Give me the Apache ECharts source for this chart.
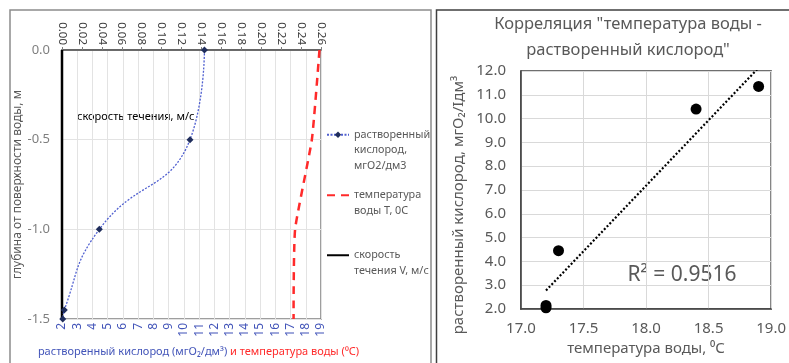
<!DOCTYPE html>
<html><head><meta charset="utf-8">
<script src="https://cdn.jsdelivr.net/npm/echarts@6/dist/echarts.min.js"></script>
<style>html,body{margin:0;padding:0;background:#fff}#c{width:789px;height:363px}</style>
</head><body><div id="c"></div>
<script>
// ---- data ----
const depth = [0, -0.5, -1.0, -1.45, -1.5];            // m
const oxygen = [11.35, 10.4, 4.45, 2.15, 2.05];         // мгО2/дм3
const temperature = [18.9, 18.4, 17.3, 17.2, 17.2];     // °C
const speed = [0, 0, 0, 0, 0];                          // м/с
const bottomTicks = {min: 2, max: 19, step: 1};
const topTicks = {min: 0, max: 0.26, step: 0.02};
const depthTicks = {min: -1.5, max: 0, step: 0.5};
const corrXTicks = {min: 17, max: 19, step: 0.5};
const corrYTicks = {min: 2, max: 12, step: 1};
const r2Text = 'R² = 0.9516';

const FONT = '"Noto Sans", "DejaVu Sans", sans-serif';
const GRAY = '#595959';
const BLUE = '#4355b9';
const RED = '#ff2a2a';

const nameOx = 'растворенный кислород, мгО2/дм3';
const nameT = 'температура воды Т, 0С';
const nameV = 'скорость течения V, м/с';
const legendLabels = {};
legendLabels[nameOx] = '\n\nрастворенный\nкислород,\nмгО2/дм3';
legendLabels[nameT] = '\nтемпература\nводы Т, 0С';
legendLabels[nameV] = '\nскорость\nтечения V, м/с';

// linear trend from the scatter data
const n = temperature.length;
const mx = temperature.reduce((a,b)=>a+b,0)/n;
const my = oxygen.reduce((a,b)=>a+b,0)/n;
let sxy=0,sxx=0;
for(let i=0;i<n;i++){sxy+=(temperature[i]-mx)*(oxygen[i]-my);sxx+=(temperature[i]-mx)**2;}
const slope=sxy/sxx, icpt=my-slope*mx;
const tMin=Math.min(...temperature);
const trend=[[tMin, icpt+slope*tMin],[corrXTicks.max, icpt+slope*corrXTicks.max]];

const chart = echarts.init(document.getElementById('c'), null, {renderer:'canvas'});
const legendBase = {orient:'vertical', left:326, itemWidth:22, itemHeight:8, padding:0,
  textStyle:{fontFamily:FONT, fontSize:10.8, lineHeight:15.5, color:GRAY},
  formatter: nm => legendLabels[nm]};
chart.setOption({
  animation:false,
  textStyle:{fontFamily:FONT},
  title:{text:'Корреляция "температура воды -\nрастворенный кислород"', left:628, top:11, textAlign:'center',
    padding:0, textStyle:{fontFamily:FONT, fontSize:16.5, fontWeight:'normal', color:GRAY, lineHeight:26}},
  legend:[
    Object.assign({}, legendBase, {top:96, data:[nameOx]}),
    Object.assign({}, legendBase, {top:172, data:[{name:nameT, itemStyle:{opacity:0}}]}),
    Object.assign({}, legendBase, {top:232, data:[{name:nameV, itemStyle:{opacity:0}}]})
  ],
  grid:[
    {left:62, top:50, width:259, height:269, show:true, borderColor:'#7f7f7f', borderWidth:1.5},
    {left:521, top:71, width:252, height:238, show:true, borderColor:'#404040', borderWidth:1.5}
  ],
  xAxis:[
    {gridIndex:0, type:'value', position:'bottom', min:bottomTicks.min, max:bottomTicks.max, interval:bottomTicks.step,
     axisLine:{show:true, lineStyle:{color:'#8c8c8c', width:1.5}}, axisTick:{show:false},
     axisLabel:{rotate:90, color:BLUE, fontSize:12, margin:4, fontFamily:FONT},
     splitLine:{show:true, lineStyle:{color:'#e3e3e3', width:1}},
     name:'{b|растворенный кислород (мгО₂/дм³)}{r| и температура воды (⁰С)}', nameLocation:'middle', nameGap:27,
     nameTextStyle:{padding:[0,0,0,14], rich:{b:{color:BLUE, fontSize:11, fontFamily:FONT}, r:{color:RED, fontSize:11, fontFamily:FONT}}}},
    {gridIndex:0, type:'value', position:'top', min:topTicks.min, max:topTicks.max, interval:topTicks.step,
     axisLine:{show:true, lineStyle:{color:'#595959', width:1.5}}, axisTick:{show:true, length:3, lineStyle:{color:'#7f7f7f'}},
     axisLabel:{rotate:90, color:'#404040', fontSize:11.5, margin:5, fontFamily:FONT, formatter:v=>v.toFixed(2)},
     splitLine:{show:false}},
    {gridIndex:1, type:'value', min:corrXTicks.min, max:corrXTicks.max, interval:corrXTicks.step,
     axisLine:{show:true, lineStyle:{color:'#404040', width:1.5}}, axisTick:{show:false},
     axisLabel:{color:GRAY, fontSize:15, margin:12, fontFamily:FONT, formatter:v=>v.toFixed(1)},
     splitLine:{show:true, lineStyle:{color:'#d9d9d9'}},
     name:'температура воды, ⁰С', nameLocation:'middle', nameGap:31,
     nameTextStyle:{color:GRAY, fontSize:15, fontFamily:FONT}}
  ],
  yAxis:[
    {gridIndex:0, type:'value', min:depthTicks.min, max:depthTicks.max, interval:depthTicks.step,
     axisLine:{show:false}, axisTick:{show:false},
     axisLabel:{color:'#7f7f7f', fontSize:13, margin:12, fontFamily:FONT, formatter:v=>v.toFixed(1)},
     splitLine:{show:true, lineStyle:{color:'#e3e3e3'}},
     name:'глубина от поверхности воды, м', nameLocation:'middle', nameGap:38,
     nameTextStyle:{color:GRAY, fontSize:12, fontFamily:FONT}},
    {gridIndex:1, type:'value', min:corrYTicks.min, max:corrYTicks.max, interval:corrYTicks.step,
     axisLine:{show:true, lineStyle:{color:'#404040', width:1.5}}, axisTick:{show:false},
     axisLabel:{color:GRAY, fontSize:15, margin:15, fontFamily:FONT, formatter:v=>v.toFixed(1)},
     splitLine:{show:true, lineStyle:{color:'#d9d9d9'}},
     name:'растворенный кислород, мгО₂/Iдм³', nameLocation:'middle', nameGap:55,
     nameTextStyle:{color:GRAY, fontSize:15, fontFamily:FONT, padding:[0,30,0,0]}}
  ],
  series:[
    {name:nameOx, type:'line', xAxisIndex:0, yAxisIndex:0, smooth:true, clip:false,
     data: oxygen.map((v,i)=>[v, depth[i]]),
     lineStyle:{color:'#4f5fd0', width:1.3, type:[2,1.5]},
     symbol:'diamond', symbolSize:7, itemStyle:{color:'#1f2d5c'}, z:5},
    {name:nameT, type:'line', xAxisIndex:0, yAxisIndex:0, smooth:0.15, clip:false,
     data: temperature.map((v,i)=>[v, depth[i]]),
     lineStyle:{color:RED, width:2.5, type:[8,6]}, itemStyle:{color:RED},
     showSymbol:false, symbol:'none', z:4},
    {name:nameV, type:'line', xAxisIndex:1, yAxisIndex:0, clip:false,
     data: speed.map((v,i)=>[v, depth[i]]),
     lineStyle:{color:'#000', width:2.5}, itemStyle:{color:'#000'}, showSymbol:false, symbol:'none', z:3},
    {name:'scatter', type:'scatter', xAxisIndex:2, yAxisIndex:1,
     data: temperature.map((t,i)=>[t, oxygen[i]]), symbol:'circle', symbolSize:11, itemStyle:{color:'#000', opacity:1}, z:5},
    {name:'trend', type:'line', xAxisIndex:2, yAxisIndex:1, clip:true, data:trend,
     showSymbol:false, symbol:'none', lineStyle:{color:'#000', width:2.2, type:[2,2]}, z:4}
  ],
  graphic:[
    {type:'rect', shape:{x:10, y:10, width:421, height:370}, style:{fill:'none', stroke:'#8c8c8c', lineWidth:1.5}, silent:true},
    {type:'rect', shape:{x:436.5, y:10, width:370, height:370}, style:{fill:'none', stroke:'#404040', lineWidth:1.5}, silent:true},
    {type:'text', left:77, top:111, style:{text:'скорость течения, м/с', font:'11px '+FONT, fill:'#000'}},
    {type:'text', x:682, y:275, style:{text:r2Text, font:'21px '+FONT, fill:GRAY, textAlign:'center', textVerticalAlign:'middle'}}
  ]
});
</script></body></html>
